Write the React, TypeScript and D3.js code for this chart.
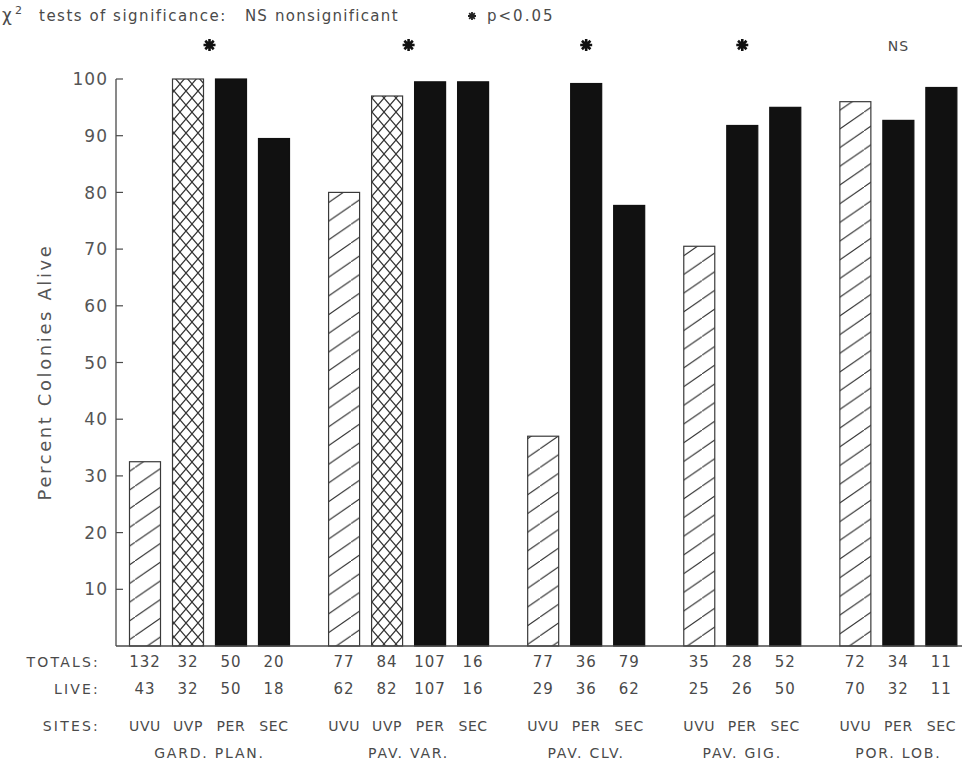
import React from "react";
import * as d3 from "d3";

// data
const groups = ["GARD. PLAN.", "PAV. VAR.", "PAV. CLV.", "PAV. GIG.", "POR. LOB."];
const groupSites = [
  ["UVU", "UVP", "PER", "SEC"],
  ["UVU", "UVP", "PER", "SEC"],
  ["UVU", "PER", "SEC"],
  ["UVU", "PER", "SEC"],
  ["UVU", "PER", "SEC"],
];
const percentAlive = [
  [32.5, 100, 100, 89.5],
  [80, 97, 99.5, 99.5],
  [37, 99.2, 77.7],
  [70.5, 91.8, 95],
  [96, 92.7, 98.5],
];
const totals = [
  ["132", "32", "50", "20"],
  ["77", "84", "107", "16"],
  ["77", "36", "79"],
  ["35", "28", "52"],
  ["72", "34", "11"],
];
const live = [
  ["43", "32", "50", "18"],
  ["62", "82", "107", "16"],
  ["29", "36", "62"],
  ["25", "26", "50"],
  ["70", "32", "11"],
];
const significance = ["*", "*", "*", "*", "NS"];
const yTicks = [10, 20, 30, 40, 50, 60, 70, 80, 90, 100];

const width = 970;
const height = 767;
const font = "'DejaVu Sans', sans-serif";
const ink = "#4a4a4a";

const App = () => {
  const y = d3.scaleLinear().domain([0, 100]).range([646, 79]);
  // bar slot units, groups separated by an extra gap
  const gap = 0.63;
  const x = d3.scaleLinear().domain([0, 1]).range([145, 188]);
  const barW = 31;

  const bars = [];
  let slot = 0;
  groups.forEach((g, gi) => {
    groupSites[gi].forEach((s, si) => {
      bars.push({
        gi, si, site: s,
        value: percentAlive[gi][si],
        total: totals[gi][si],
        live: live[gi][si],
        u: slot + gi * gap,
      });
      slot++;
    });
  });
  const groupCenter = groups.map((g, gi) => {
    const b = bars.filter(d => d.gi === gi);
    return (x(b[0].u) + x(b[b.length - 1].u)) / 2;
  });

  const fillFor = (site) => {
    if (site === "UVU") return "url(#hatch)";
    if (site === "UVP") return "url(#cross)";
    return "#111";
  };

  const star = (cx, cy, r) => {
    const p = d3.path();
    for (let k = 0; k < 4; k++) {
      const a = (Math.PI / 4) * k;
      p.moveTo(cx - r * Math.cos(a), cy - r * Math.sin(a));
      p.lineTo(cx + r * Math.cos(a), cy + r * Math.sin(a));
    }
    return p.toString();
  };

  return (
    <svg width={width} height={height} style={{ position: "absolute", left: 0, top: 0, background: "#fff" }}>
      <defs>
        <pattern id="hatch" patternUnits="userSpaceOnUse" width={27} height={18.7}>
          <rect width={27} height={18.7} fill="#fff" />
          <path d="M-2.7,20.57 L29.7,-1.87" stroke="#333" strokeWidth={1.1} />
        </pattern>
        <pattern id="cross" patternUnits="userSpaceOnUse" width={12} height={14}>
          <rect width={12} height={14} fill="#fff" />
          <path d="M-1,15.17 L13,-1.17 M-1,-1.17 L13,15.17" stroke="#333" strokeWidth={1.2} />
        </pattern>
      </defs>

      {/* header */}
      <g fill={ink} fontFamily={font} fontSize={15}>
        <text x={2} y={21} fontSize={17}>χ</text>
        <text x={15} y={14} fontSize={11}>2</text>
        <text x={39} y={21} letterSpacing={1.5}>tests of significance:</text>
        <text x={245} y={21} letterSpacing={1}>NS</text>
        <text x={275} y={21} letterSpacing={1.3}>nonsignificant</text>
        <path d={star(472, 16, 4)} stroke="#222" strokeWidth={1.8} />
        <text x={487} y={21} letterSpacing={2}>p&lt;0.05</text>
      </g>
      {significance.map((s, gi) =>
        s === "*" ? (
          <path key={gi} d={star(groupCenter[gi], 45, 6)} stroke="#111" strokeWidth={2.6} />
        ) : (
          <text key={gi} x={groupCenter[gi]} y={51} textAnchor="middle" fontFamily={font} fontSize={14} letterSpacing={1} fill={ink}>{s}</text>
        )
      )}

      {/* y axis */}
      <line x1={116} x2={116} y1={y(100)} y2={y(0)} stroke={ink} strokeWidth={1.3} />
      {yTicks.map(t => (
        <g key={t}>
          <line x1={116} x2={123} y1={y(t)} y2={y(t)} stroke={ink} strokeWidth={1.2} />
          <text x={108} y={y(t)} dy="0.36em" textAnchor="end" fontFamily={font} fontSize={17} letterSpacing={1} fill="#555">{t}</text>
        </g>
      ))}
      <text transform={`translate(51,372) rotate(-90)`} textAnchor="middle" fontFamily={font} fontSize={18} letterSpacing={2.6} fill="#555">
        Percent  Colonies  Alive
      </text>

      {/* bars */}
      {bars.map((d, i) => (
        <rect key={i} x={x(d.u) - barW / 2} y={y(d.value)} width={barW} height={y(0) - y(d.value)}
          fill={fillFor(d.site)} stroke={d.site === "UVU" || d.site === "UVP" ? "#3a3a3a" : "#111"} strokeWidth={1.2} />
      ))}
      <line x1={116} x2={962} y1={y(0)} y2={y(0)} stroke={ink} strokeWidth={1.3} />

      {/* table below */}
      <g fontFamily={font} fontSize={14} fill={ink} letterSpacing={1}>
        <text x={100} y={667} textAnchor="end" letterSpacing={2.2}>TOTALS:</text>
        <text x={100} y={694} textAnchor="end" letterSpacing={2.2}>LIVE:</text>
        <text x={100} y={731} textAnchor="end" letterSpacing={2.2}>SITES:</text>
        {bars.map((d, i) => (
          <g key={i}>
            <text x={x(d.u)} y={667} textAnchor="middle" fontSize={15}>{d.total}</text>
            <text x={x(d.u)} y={694} textAnchor="middle" fontSize={15}>{d.live}</text>
            <text x={x(d.u)} y={731} textAnchor="middle" fontSize={14} letterSpacing={0.6}>{d.site}</text>
          </g>
        ))}
        {groups.map((g, gi) => (
          <text key={g} x={groupCenter[gi]} y={758} textAnchor="middle" letterSpacing={1.8}>{g}</text>
        ))}
      </g>
    </svg>
  );
};

export default App;
